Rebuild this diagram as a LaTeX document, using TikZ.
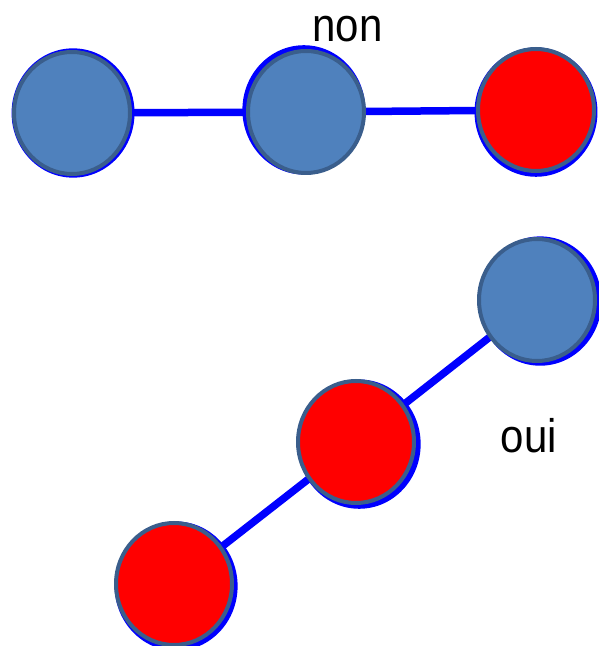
\documentclass[tikz,border=0pt]{standalone}
\usepackage{fontspec}
\setmainfont{Liberation Sans}
\usetikzlibrary{shapes.geometric,shadows,backgrounds}
\definecolor{steel}{HTML}{4F81BD}
\definecolor{edgeblue}{HTML}{3A5E8C}
\tikzset{
  blob/.style 2 args={ellipse, draw=edgeblue, line width=4pt,
    minimum width=116pt, minimum height=122pt, inner sep=0pt,
    general shadow={fill=blue, shadow scale=1.06, shadow xshift=#1, shadow yshift=#2}},
  link/.style={draw=blue, line width=7.5pt},
  word/.style={font=\fontsize{42}{48}\selectfont, anchor=base, yscale=1.12, transform shape}
}
\begin{document}
\begin{tikzpicture}[x=1pt, y=1pt]
    \useasboundingbox (0, 0) rectangle (599, 646);

    % Nodes
    \node [blob={1pt}{0pt}, fill=steel] (a1) at (72, 533) {};
    \node [blob={-2pt}{2pt}, fill=steel] (a2) at (306, 534) {};
    \node [blob={0pt}{-2pt}, fill=red] (a3) at (536, 536) {};
    \node [blob={3pt}{-1pt}, fill=steel] (b3) at (537, 346) {};
    \node [blob={3pt}{-2pt}, fill=red] (b2) at (356, 204) {};
    \node [blob={2pt}{-2pt}, fill=red] (b1) at (174, 62) {};

    \node [word] (non) at (347.5, 604) {non};
    \node [word] (oui) at (529, 193) {oui};

    % Connections
    \begin{scope}[on background layer]
      \draw [link] (a1.center) -- (a2.center);
      \draw [link] (a2.center) -- (a3.center);
      \draw [link] (b1.center) -- (b2.center);
      \draw [link] (b2.center) -- (b3.center);
    \end{scope}
  \end{tikzpicture}
\end{document}
